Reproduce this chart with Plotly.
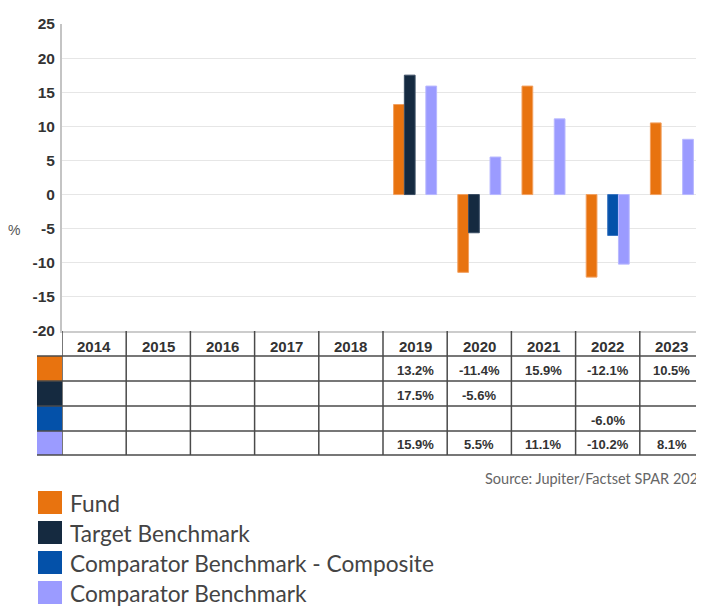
import plotly.graph_objects as go

years = ["2014", "2015", "2016", "2017", "2018", "2019", "2020", "2021", "2022", "2023"]
series_names = ["Fund", "Target Benchmark", "Comparator Benchmark - Composite", "Comparator Benchmark"]
fund = [None, None, None, None, None, 13.2, -11.4, 15.9, -12.1, 10.5]
target = [None, None, None, None, None, 17.5, -5.6, None, None, None]
composite = [None, None, None, None, None, None, None, None, -6.0, None]
comparator = [None, None, None, None, None, 15.9, 5.5, 11.1, -10.2, 8.1]
series_values = [fund, target, composite, comparator]
y_tickvals = [25, 20, 15, 10, 5, 0, -5, -10, -15, -20]
y_ticktext = ["25", "20", "15", "10", "5", "0", "-5", "-10", "-15", "-20"]
colors = ["#E8730F", "#152A40", "#0451A9", "#9B9BFF"]
line_colors = ["#F2A060", "#3A4D63", "#3A75C0", "#B8B8FF"]
source_text = "Source: Jupiter/Factset SPAR 2023"

OFF = 8  # page body margin
W, H = 704 - OFF, 606 - OFF
# plot area in screen pixels
SL, SR, ST, SB = 62, 704, 24, 331


def py(Y):
    return (SB - Y) / (SB - ST)


def px(X):
    return (X - SL) / (SR - SL)


fig = go.Figure()
for name, vals, c, lc in zip(series_names, series_values, colors, line_colors):
    fig.add_trace(go.Bar(x=list(range(len(years))), y=vals, name=name,
                         marker=dict(color=c, line=dict(color=lc, width=1))))

shapes = []
annotations = []

row_edges = [331, 356, 381, 406, 431, 455]
line_col = "#4a4a4a"
for i in range(len(years) + 1):
    shapes.append(dict(type="line", xref="x", yref="paper", x0=i - 0.5, x1=i - 0.5,
                       y0=py(row_edges[0]), y1=py(row_edges[-1]), line=dict(color=line_col, width=1.5)))
for j, c in enumerate(colors):
    shapes.append(dict(type="rect", xref="paper", yref="paper", x0=px(37), x1=px(62),
                       y0=py(row_edges[j + 1]), y1=py(row_edges[j + 2]), fillcolor=c, line=dict(width=0)))
for Y in row_edges[1:]:
    shapes.append(dict(type="line", xref="paper", yref="paper", x0=px(37), x1=1.0,
                       y0=py(Y), y1=py(Y), line=dict(color=line_col, width=1.5)))

cell_font = dict(family="Arial, Liberation Sans", size=13, color="#333333", weight="bold")
for i, yr in enumerate(years):
    annotations.append(dict(x=i, xref="x", yref="paper", y=py(346), xanchor="center", yanchor="middle",
                            text=yr, showarrow=False,
                            font=dict(family="Arial, Liberation Sans", size=15, color="#333333", weight="bold")))
for j, vals in enumerate(series_values):
    yc = py((row_edges[j + 1] + row_edges[j + 2]) / 2 + 1.5)
    for i, v in enumerate(vals):
        if v is not None:
            annotations.append(dict(x=i, xref="x", yref="paper", y=yc, text=f"{v:.1f}%",
                                    xanchor="center", yanchor="middle",
                                    showarrow=False, font=cell_font))

annotations.append(dict(x=px(14), y=py(230), xref="paper", yref="paper", text="%", showarrow=False,
                        xanchor="center", yanchor="middle",
                        font=dict(family="Arial, Liberation Sans", size=14, color="#555555")))

annotations.append(dict(x=px(483), y=py(478), xref="paper", yref="paper", text=source_text,
                        showarrow=False, xanchor="left", yanchor="middle",
                        font=dict(family="Lato", size=14.5, color="#666666")))

for j, (name, c) in enumerate(zip(series_names, colors)):
    top = 491 + 30 * j
    shapes.append(dict(type="rect", xref="paper", yref="paper", x0=px(38), x1=px(62),
                       y0=py(top), y1=py(top + 23), fillcolor=c, line=dict(width=0)))
    annotations.append(dict(x=px(68), y=py(top + 12), xref="paper", yref="paper", text=name,
                            showarrow=False, xanchor="left", yanchor="middle",
                            font=dict(family="Lato", size=22.7, color="#444444")))

fig.update_layout(
    width=W, height=H,
    margin=dict(l=SL - OFF, r=0, t=ST - OFF, b=H - (SB - OFF)),
    plot_bgcolor="white", paper_bgcolor="white",
    barmode="group", bargap=0.33, bargroupgap=0,
    showlegend=False,
    shapes=shapes, annotations=annotations,
    xaxis=dict(range=[-0.5, len(years) - 0.5], showticklabels=False, showgrid=False, showline=True,
               linecolor="#cccccc", linewidth=2, ticks="", zeroline=False),
    yaxis=dict(range=[-20, 25], tickvals=y_tickvals, ticktext=y_ticktext, showgrid=True,
               gridcolor="#e6e6e6", gridwidth=1,
               zeroline=False, showline=True, linecolor="#c4c4c4", linewidth=2, ticks="",
               ticklabelstandoff=2,
               tickfont=dict(family="Arial, Liberation Sans", size=15.5, color="#333333", weight="bold")),
)

fig.write_html("out.html")
